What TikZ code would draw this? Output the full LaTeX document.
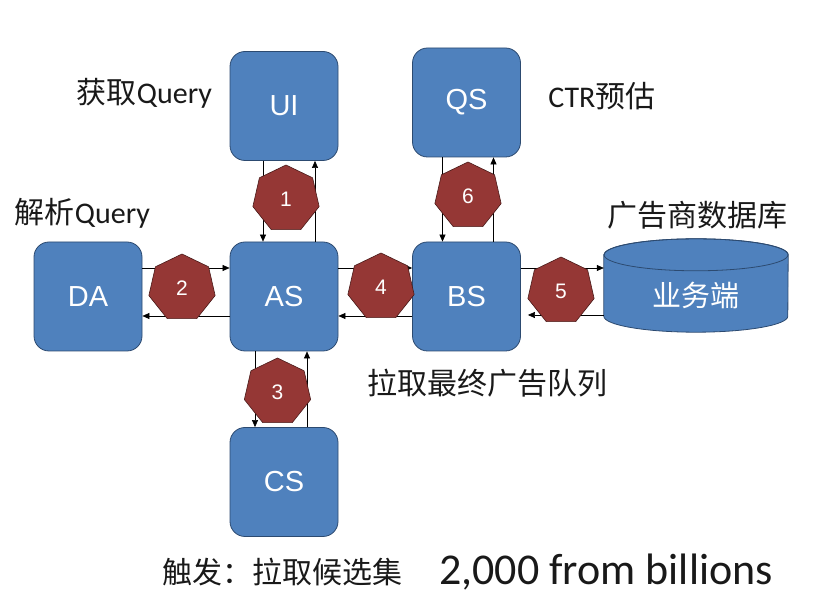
\documentclass[tikz,border=0pt]{standalone}
\usepackage{fontspec}
\setmainfont{Carlito}
\newfontfamily\cjk{Noto Sans CJK SC}
\newfontfamily\arialfont{Liberation Sans}
\usetikzlibrary{shapes.geometric,arrows.meta,calc}
\definecolor{boxblue}{HTML}{4F81BD}
\definecolor{boxline}{HTML}{2C4A70}
\definecolor{stepred}{HTML}{953735}
\definecolor{stepline}{HTML}{4A1B1A}
\tikzset{
  server/.style={draw=boxline, line width=0.8pt, fill=boxblue, rounded corners=15pt, minimum width=108pt, minimum height=109pt, text=white, font=\arialfont\fontsize{29}{34}\selectfont},
  stepno/.style={regular polygon, regular polygon sides=7, draw=stepline, line width=0.6pt, fill=stepred, minimum size=68pt, inner sep=0pt, text=white, font=\arialfont\fontsize{21}{25}\selectfont},
  flow/.style={-{Triangle[length=7pt,width=6pt]}, line width=0.6pt},
  note/.style={text=black!90, font=\fontsize{30}{36}\selectfont},
  dbline/.style={draw=boxline, line width=0.8pt}
}
\begin{document}
\begin{tikzpicture}[x=1pt,y=1pt]
\useasboundingbox (0,0) rectangle (819,610);
\node[server] (ui) at (284,504) {UI};
\node[server] (qs) at (466.5,507.5) {QS};
\node[server] (da) at (88,313.5) {DA};
\node[server] (as) at (284,313.5) {AS};
\node[server] (bs) at (466.5,313.5) {BS};
\node[server] (cs) at (284,128) {CS};
% cylinder
\node[minimum width=184pt, minimum height=61pt, inner sep=0pt] (db) at (696,324.5) {};
\draw[dbline, fill=boxblue] (db.north west) -- (db.south west) arc[start angle=180, end angle=360, x radius=92pt, y radius=16pt] -- (db.north east) arc[start angle=0, end angle=180, x radius=92pt, y radius=16pt] -- cycle;
\draw[dbline] (db.north) ellipse [x radius=92pt, y radius=16pt];
\node[text=white, font=\cjk\fontsize{29}{34}\selectfont] (dbtext) at ([yshift=-10pt]db.center) {业务端};
\draw[flow] ([xshift=-21pt]ui.south) -- ([xshift=-21pt]as.north);
\draw[flow] ([xshift=31pt]as.north) -- ([xshift=31pt]ui.south);
\draw[flow] ([yshift=28.5pt]da.east) -- ([yshift=28.5pt]as.west);
\draw[flow] ([yshift=-19.5pt]as.west) -- ([yshift=-19.5pt]da.east);
\draw[flow] ([xshift=-29pt]as.south) -- ([xshift=-29pt]cs.north);
\draw[flow] ([xshift=23pt]cs.north) -- ([xshift=23pt]as.south);
\draw[flow] ([yshift=28.5pt]as.east) -- ([yshift=28.5pt]bs.west);
\draw[flow] ([yshift=-19.5pt]bs.west) -- ([yshift=-19.5pt]as.east);
\draw[flow] ([yshift=28.5pt]bs.east) -- ([yshift=28.5pt]bs.east -| db.west);
\draw[flow, shorten >=7pt] ([yshift=-18.5pt]bs.east -| db.west) -- ([yshift=-18.5pt]bs.east);
\draw[flow] ([xshift=-24pt]qs.south) -- ([xshift=-24pt]bs.north);
\draw[flow] ([xshift=27pt]bs.north) -- ([xshift=27pt]qs.south);
\node[stepno] (s1) at (286,411) {1};
\node[stepno] (s2) at (182,322) {2};
\node[stepno] (s3) at (277.5,218) {3};
\node[stepno] (s4) at (381,323) {4};
\node[stepno] (s5) at (561,319) {5};
\node[stepno] (s6) at (468,414) {6};
\node[note] (getq) at (144.5,517) {{\cjk 获取}Query};
\node[note] (parseq) at (82.5,397) {{\cjk 解析}Query};
\node[note] (ctr) at (602,514) {CTR{\cjk 预估}};
\node[note] (adv) at (697,395) {\cjk 广告商数据库};
\node[note] (final) at (487,227) {\cjk 拉取最终广告队列};
\node[note] (trig) at (282.5,38) {\cjk 触发：拉取候选集};
\node[text=black!90, font=\fontsize{44}{52}\selectfont] (count) at (606,38) {2,000 from billions};
\end{tikzpicture}
\end{document}
